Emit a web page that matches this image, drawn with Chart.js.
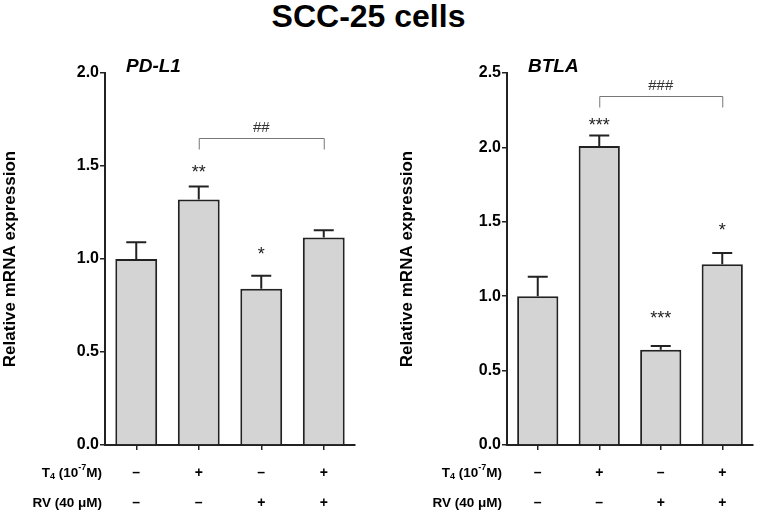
<!DOCTYPE html>
<html>
<head>
<meta charset="utf-8">
<script src="https://cdn.jsdelivr.net/npm/chart.js@4/dist/chart.umd.min.js"></script>
<style>
  body { margin: 0; background: #fff; }
  #wrap { position: relative; width: 757px; height: 512px; }
  #title { position: absolute; left: 0; top: 0; width: 737px; text-align: center;
           font: bold 32px "Liberation Sans", Arial, sans-serif; line-height: 32px; color: #000; }
  canvas { position: absolute; top: 0; }
</style>
</head>
<body>
<div id="wrap">
  <div id="title">SCC-25 cells</div>
  <canvas id="chartPdl1" width="380" height="512" style="left:0"></canvas>
  <canvas id="chartBtla" width="377" height="512" style="left:380px"></canvas>
</div>
<script>
  // groups: T4 / RV treatment
  const groups = ['Ctrl', 'T4', 'RV', 'T4+RV'];
  const t4Row = ['-', '+', '-', '+'];
  const rvRow = ['-', '-', '+', '+'];

  const pdl1Mean = [1.00, 1.32, 0.84, 1.115];
  const pdl1Sem = [0.09, 0.07, 0.07, 0.04];
  const pdl1Stars = ['', '**', '*', ''];

  const btlaMean = [1.00, 2.01, 0.64, 1.215];
  const btlaSem = [0.13, 0.07, 0.025, 0.075];
  const btlaStars = ['', '***', '***', '*'];

  const FONT = '"Liberation Sans", Arial, sans-serif';

  // error bars, stars, bracket, panel title and the treatment rows
  const extras = {
    id: 'extras',
    afterDatasetsDraw(chart, args, opts) {
      const ctx = chart.ctx;
      const x = chart.scales.x, y = chart.scales.y;
      const bars = chart.getDatasetMeta(0).data;
      ctx.save();

      // error bars (upper only)
      ctx.strokeStyle = '#222';
      ctx.lineWidth = 2;
      bars.forEach((b, i) => {
        const top = y.getPixelForValue(opts.mean[i] + opts.sem[i]);
        ctx.beginPath();
        ctx.moveTo(b.x, b.y);
        ctx.lineTo(b.x, top);
        ctx.moveTo(b.x - 10, top);
        ctx.lineTo(b.x + 10, top);
        ctx.stroke();
      });

      // significance stars
      ctx.fillStyle = '#222';
      ctx.font = '18px ' + FONT;
      ctx.textAlign = 'center';
      ctx.textBaseline = 'alphabetic';
      opts.stars.forEach((s, i) => {
        if (!s) return;
        ctx.fillText(s, bars[i].x, y.getPixelForValue(opts.starAt[i]) + 10);
      });

      // bracket between T4 and T4+RV
      const br = opts.bracket;
      const bx1 = bars[br.from].x, bx2 = bars[br.to].x;
      const by = Math.round(y.getPixelForValue(br.at)) + 0.5;
      ctx.strokeStyle = '#777';
      ctx.lineWidth = 1;
      ctx.beginPath();
      ctx.moveTo(bx1 + 0.5, by + 11);
      ctx.lineTo(bx1 + 0.5, by);
      ctx.lineTo(bx2 + 0.5, by);
      ctx.lineTo(bx2 + 0.5, by + 11);
      ctx.stroke();
      ctx.font = '15px ' + FONT;
      ctx.fillStyle = '#333';
      ctx.textBaseline = 'middle';
      ctx.fillText(br.label, (bx1 + bx2) / 2, by - 11);

      // panel title
      ctx.fillStyle = '#000';
      ctx.textAlign = 'left';
      ctx.font = 'italic bold 19px ' + FONT;
      ctx.fillText(opts.gene, chart.chartArea.left + 21, 67);

      // treatment rows
      ctx.font = 'bold 14px ' + FONT;
      ctx.textAlign = 'center';
      const rowY = [473, 503];
      [t4Row, rvRow].forEach((row, r) => {
        row.forEach((s, i) => {
          ctx.fillText(s === '-' ? '\u2013' : s, x.getPixelForValue(i), rowY[r]);
        });
      });

      // row labels, right aligned
      const rx = opts.rowLabelX;
      const big = 'bold 13.5px ' + FONT, small = 'bold 9px ' + FONT;
      const parts = [
        ['T', big, 0], ['4', small, 4], [' (10', big, 0], ['-7', small, -5], ['M)', big, 0]
      ];
      let w = 0;
      parts.forEach(p => { ctx.font = p[1]; w += ctx.measureText(p[0]).width; });
      let cx = rx - w;
      ctx.textAlign = 'left';
      parts.forEach(p => {
        ctx.font = p[1];
        ctx.fillText(p[0], cx, rowY[0] + p[2]);
        cx += ctx.measureText(p[0]).width;
      });
      ctx.font = big;
      ctx.textAlign = 'right';
      ctx.fillText('RV (40 \u03bcM)', rx, rowY[1]);

      ctx.restore();
    }
  };

  function makeChart(el, mean, sem, yMax, opts) {
    return new Chart(document.getElementById(el), {
      type: 'bar',
      data: {
        labels: groups,
        datasets: [{
          data: mean,
          backgroundColor: '#d4d4d4',
          borderColor: '#222',
          borderWidth: 2,
          borderSkipped: 'bottom',
          barPercentage: 0.67,
          categoryPercentage: 1
        }]
      },
      options: {
        responsive: false,
        animation: false,
        events: [],
        layout: { padding: { left: opts.padLeft, right: opts.padRight, top: 73, bottom: 62 } },
        plugins: {
          legend: { display: false },
          tooltip: { enabled: false },
          extras: opts
        },
        scales: {
          x: {
            grid: { display: true, drawOnChartArea: false, offset: false, tickLength: 5, color: '#222', lineWidth: 1.5 },
            border: { color: '#222', width: 2 },
            ticks: { display: false },
            afterFit(s) { s.height = 5; }
          },
          y: {
            min: 0, max: yMax,
            ticks: {
              stepSize: 0.5, padding: 1, color: '#000',
              font: { family: FONT, size: 16, weight: 'bold' },
              callback: v => v.toFixed(1)
            },
            grid: { display: true, drawOnChartArea: false, tickLength: 5, color: '#222', lineWidth: 1.5 },
            border: { color: '#222', width: 2 },
            title: {
              display: true, text: 'Relative mRNA expression', color: '#000',
              font: { family: FONT, size: 17, weight: 'bold' }, padding: 0
            },
            afterFit(s) { s.width = opts.axisX - opts.padLeft; }
          }
        }
      },
      plugins: [extras]
    });
  }

  makeChart('chartPdl1', pdl1Mean, pdl1Sem, 2.0, {
    mean: pdl1Mean, sem: pdl1Sem, stars: pdl1Stars, gene: 'PD-L1',
    starAt: [0, 1.49, 1.05, 0],
    bracket: { from: 1, to: 3, at: 1.652, label: '##' },
    padLeft: 0, padRight: 25, axisX: 105, rowLabelX: 102
  });

  makeChart('chartBtla', btlaMean, btlaSem, 2.5, {
    mean: btlaMean, sem: btlaSem, stars: btlaStars, gene: 'BTLA',
    starAt: [0, 2.18, 0.88, 1.47],
    bracket: { from: 1, to: 3, at: 2.345, label: '###' },
    padLeft: 17, padRight: 4, axisX: 127, rowLabelX: 122
  });
</script>
</body>
</html>
